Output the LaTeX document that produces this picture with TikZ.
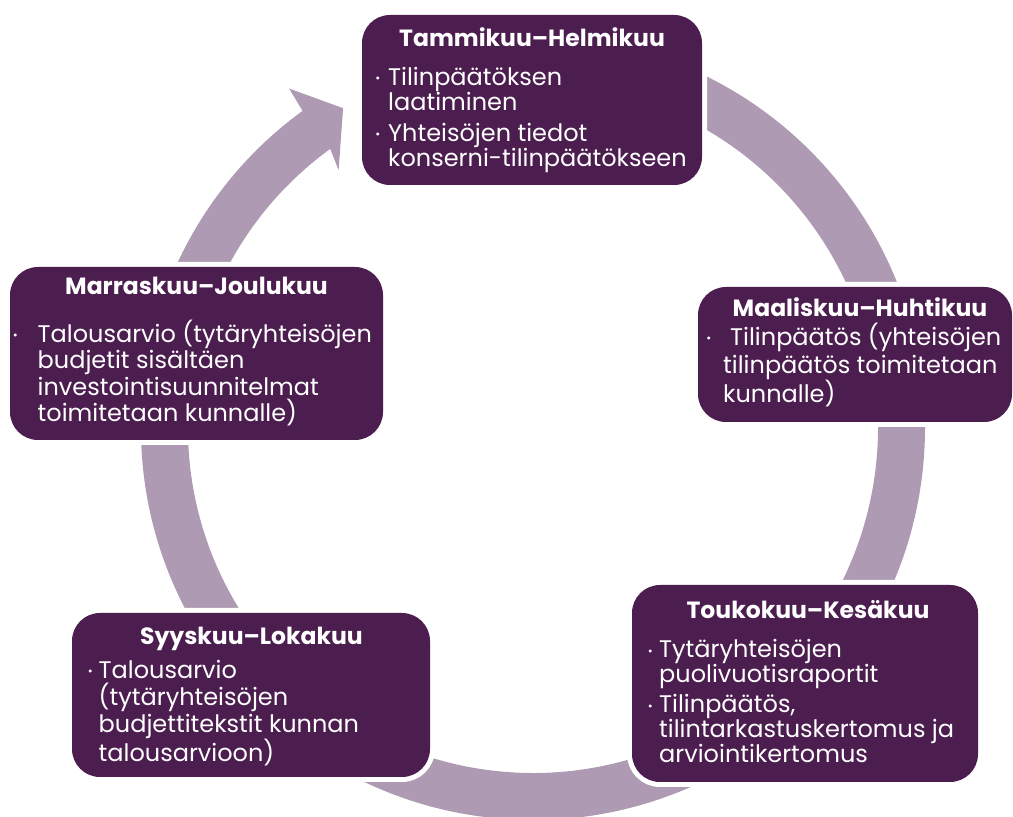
\documentclass[tikz,border=0pt]{standalone}
\usepackage{fontspec}
\setmainfont{Poppins}
\definecolor{violetti}{RGB}{76,29,79}
\definecolor{lila}{RGB}{174,154,178}
\newcommand{\pallo}[1][8pt]{\llap{\raisebox{2.5pt}{\fontsize{12}{12}\selectfont\textbullet}\hspace{#1}}}
\tikzset{
  laatikko/.style={fill=violetti, rounded corners=28pt, inner sep=0pt, outer sep=0pt,
    preaction={draw=white, line width=10pt}},
  otsikko/.style={text=white, anchor=base, inner sep=0pt, font=\fontsize{23.5}{26}\selectfont\bfseries},
  teksti/.style={text=white, anchor=base west, inner sep=0pt, align=left},
  rengas/.style={fill=lila}
}
\begin{document}
\begin{tikzpicture}[x=1pt,y=1pt]
\useasboundingbox (0,0) rectangle (1013,817);
\clip (0,0) rectangle (1013,817);
\def\jakso#1#2#3#4#5#6#7#8#9{
\node[laatikko, minimum width=#3, minimum height=#4] (#1) at (#2) {};
\node[otsikko] (#1-otsikko) at (#5) {#6};
\node[teksti, font=\fontsize{24}{#8}\selectfont] (#1-teksti) at (#7) {#9};
}
% kehä ja nuolenkärki
\fill[rengas, shift={(533,389)}] (85:392) arc[start angle=85, end angle=-234, radius=392]
  -- (-234.3:418) -- (-239.3:372) -- (-233:323) -- (-234:345)
  arc[start angle=-234, end angle=85, radius=345] -- cycle;
% jaksot (tekstin paikka = viimeisen rivin perusviiva)
\jakso{tammi}{532,717}{340pt}{170pt}{532,770}{Tammikuu–Helmikuu}{388,650}{25.5}{\pallo Tilinpäätöksen\\laatiminen\\[5pt]\pallo Yhteisöjen tiedot\\konserni-tilinpäätökseen}
\jakso{maalis}{855,462.5}{314pt}{135pt}{860,500.3}{Maaliskuu–Huhtikuu}{723,414}{28.3}{\pallo[12pt]\hspace{7pt}Tilinpäätös (yhteisöjen\\tilinpäätös toimitetaan\\kunnalle)}
\jakso{touko}{805,133.5}{346pt}{197pt}{808,198}{Toukokuu–Kesäkuu}{659,54}{25}{\pallo[6.5pt]Tytäryhteisöjen\\puolivuotisraportit\\[5pt]\pallo[6.5pt]Tilinpäätös,\\tilintarkastuskertomus ja\\arviointikertomus}
\jakso{syys}{251,122}{358pt}{164pt}{251.5,172}{Syyskuu–Lokakuu}{98.5,55}{27}{\pallo[6pt]Talousarvio\\(tytäryhteisöjen\\budjettitekstit kunnan\\talousarvioon)}
\jakso{marras}{196.5,463.5}{373pt}{173pt}{196.5,522}{Marraskuu–Joulukuu}{37.5,395}{26.5}{\pallo[20pt]Talousarvio (tytäryhteisöjen\\budjetit sisältäen\\investointisuunnitelmat\\toimitetaan kunnalle)}
\end{tikzpicture}
\end{document}
